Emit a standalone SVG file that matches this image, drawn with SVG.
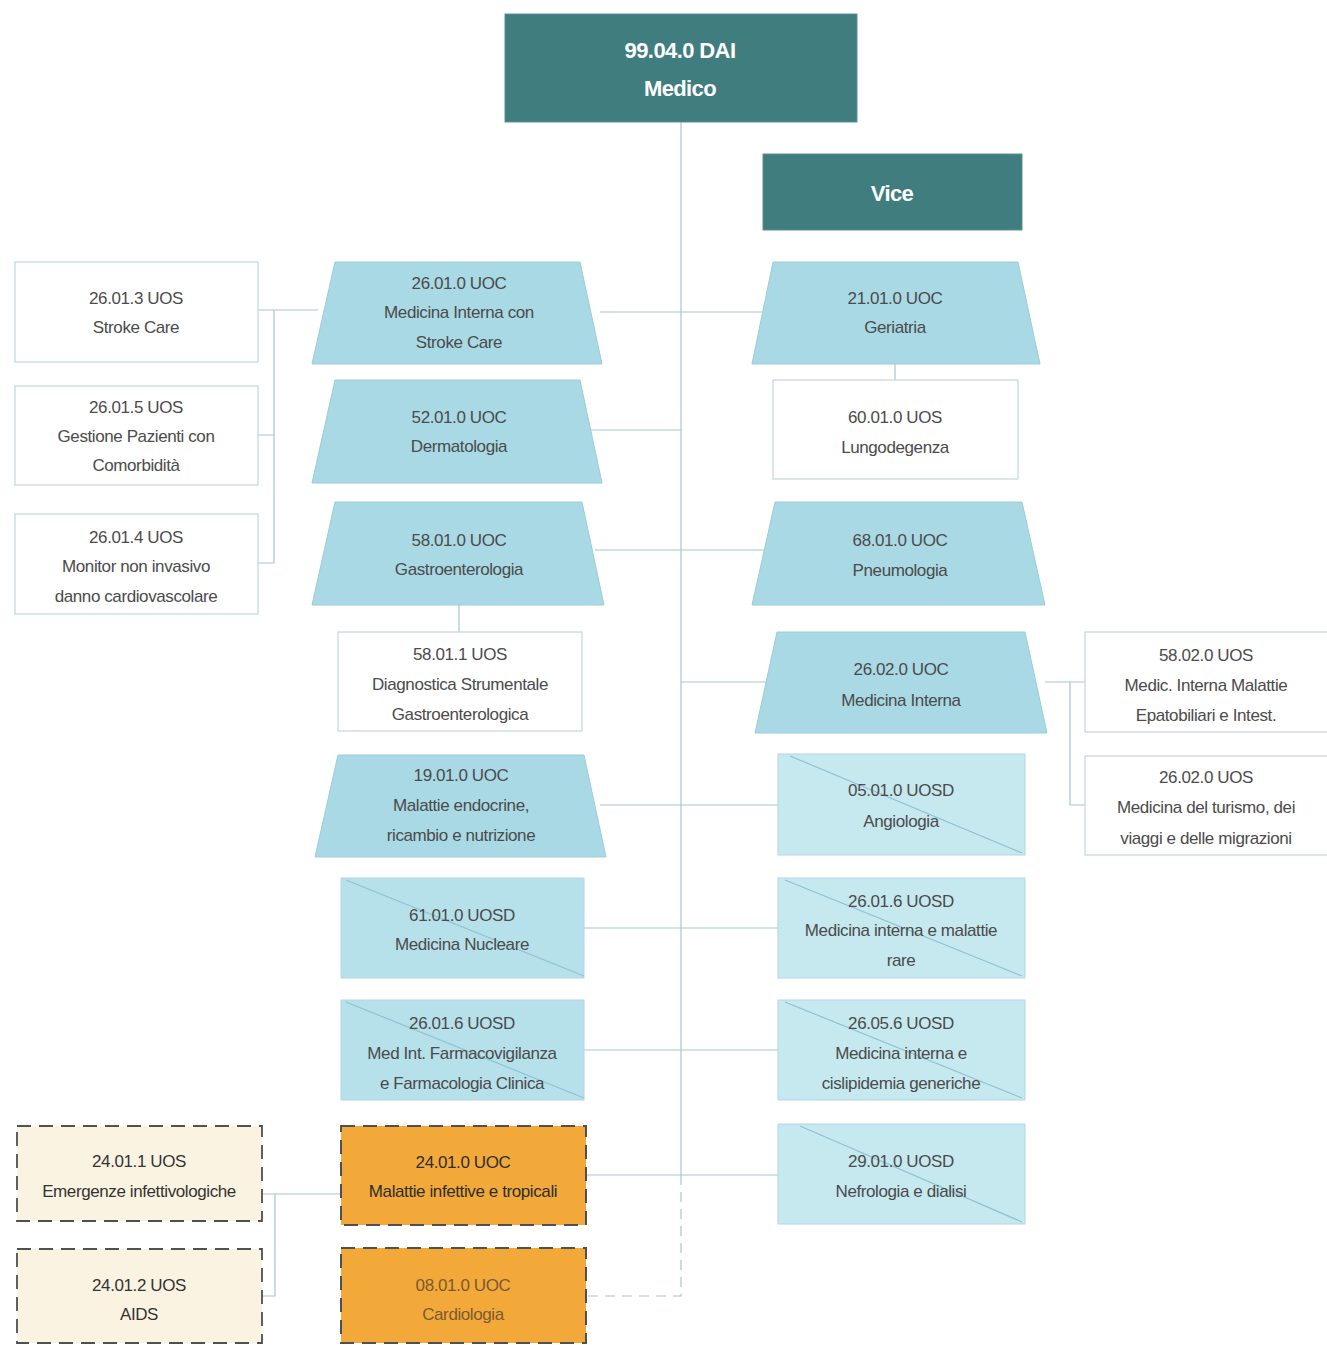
<svg xmlns="http://www.w3.org/2000/svg" width="1327" height="1345" viewBox="0 0 1327 1345">
  <style>
    .lbl { font-family: "Liberation Sans", Arial, sans-serif; font-size: 17px; fill: #4b4b4b; text-anchor: middle; letter-spacing: -0.4px; }
    .head { font-family: "Liberation Sans", Arial, sans-serif; font-size: 22px; font-weight: bold; fill: #ffffff; text-anchor: middle; letter-spacing: -0.6px; }
    .dai { fill: #3f7d7f; stroke: #5e9092; stroke-width: 1; }
    .uoc { fill: #a9d9e4; stroke: #9cccd8; stroke-width: 1; }
    .uos { fill: #ffffff; stroke: #c3d6db; stroke-width: 1.2; }
    .uosd { fill: #c6e8ef; stroke: #b2d8e1; stroke-width: 1; }
    .diag { stroke: #8ec3d2; stroke-width: 1.2; fill: none; }
    .inf { fill: #f2a93a; stroke: #505050; stroke-width: 2; stroke-dasharray: 14 8; }
    .infs { fill: #fbf3e2; stroke: #505050; stroke-width: 1.8; stroke-dasharray: 14 8; }
    .link { stroke: #a9c6cd; stroke-width: 1.2; fill: none; }
    .dash { stroke: #a9c6cd; stroke-width: 1.2; fill: none; stroke-dasharray: 10 7; }
  </style>

  <rect width="1327" height="1345" fill="#ffffff"/>

  <!-- connectors -->
  <g id="connectors">
    <!-- main spine -->
    <path class="link" d="M681 122 V1175"/>
    <path class="dash" d="M681 1175 V1296 H586"/>
    <!-- left branches -->
    <path class="link" d="M600 312 H681 M590 430 H681 M595 550 H681 M600 805 H681 M584 928 H681 M584 1050 H681 M586 1175 H681"/>
    <!-- right branches -->
    <path class="link" d="M681 312 H764 M681 550 H766 M681 682 H768 M681 805 H778 M681 928 H778 M681 1050 H778 M681 1175 H778"/>
    <!-- Stroke Care sub-units -->
    <path class="link" d="M258 310 H318 M274 310 V563 H258 M258 435 H274"/>
    <!-- Gastroenterologia -> Diagnostica -->
    <path class="link" d="M459 605 V632"/>
    <!-- Geriatria -> Lungodegenza -->
    <path class="link" d="M895 364 V380"/>
    <!-- Medicina Interna sub-units -->
    <path class="link" d="M1045 682 H1085 M1070 682 V805 H1085"/>
    <!-- Malattie infettive sub-units -->
    <path class="link" d="M262 1194 H341 M275 1194 V1296 H262"/>
  </g>

  <!-- top -->
  <g id="dai-medico">
    <rect class="dai" x="505" y="14" width="352" height="108"/>
    <text class="head" x="680" y="58">99.04.0 DAI</text>
    <text class="head" x="680" y="96">Medico</text>
  </g>
  <g id="vice">
    <rect class="dai" x="763" y="154" width="259" height="76"/>
    <text class="head" x="892" y="201">Vice</text>
  </g>

  <!-- left UOS column -->
  <g id="uos-26-01-3">
    <rect class="uos" x="15" y="262" width="243" height="100"/>
    <text class="lbl" x="136" y="304">26.01.3 UOS</text>
    <text class="lbl" x="136" y="333">Stroke Care</text>
  </g>
  <g id="uos-26-01-5">
    <rect class="uos" x="15" y="386" width="243" height="99"/>
    <text class="lbl" x="136" y="413">26.01.5 UOS</text>
    <text class="lbl" x="136" y="442">Gestione Pazienti con</text>
    <text class="lbl" x="136" y="471">Comorbidità</text>
  </g>
  <g id="uos-26-01-4">
    <rect class="uos" x="15" y="514" width="243" height="100"/>
    <text class="lbl" x="136" y="543">26.01.4 UOS</text>
    <text class="lbl" x="136" y="572">Monitor  non invasivo</text>
    <text class="lbl" x="136" y="602">danno cardiovascolare</text>
  </g>

  <!-- middle-left column -->
  <g id="uoc-26-01-0">
    <polygon class="uoc" points="335,262 580,262 602,364 312,364"/>
    <text class="lbl" x="459" y="289">26.01.0 UOC</text>
    <text class="lbl" x="459" y="318">Medicina Interna con</text>
    <text class="lbl" x="459" y="348">Stroke Care</text>
  </g>
  <g id="uoc-52-01-0">
    <polygon class="uoc" points="335,380 580,380 602,483 312,483"/>
    <text class="lbl" x="459" y="423">52.01.0 UOC</text>
    <text class="lbl" x="459" y="452">Dermatologia</text>
  </g>
  <g id="uoc-58-01-0">
    <polygon class="uoc" points="335,502 582,502 604,605 312,605"/>
    <text class="lbl" x="459" y="546">58.01.0 UOC</text>
    <text class="lbl" x="459" y="575">Gastroenterologia</text>
  </g>
  <g id="uos-58-01-1">
    <rect class="uos" x="338" y="632" width="244" height="99"/>
    <text class="lbl" x="460" y="660">58.01.1 UOS</text>
    <text class="lbl" x="460" y="690">Diagnostica Strumentale</text>
    <text class="lbl" x="460" y="720">Gastroenterologica</text>
  </g>
  <g id="uoc-19-01-0">
    <polygon class="uoc" points="338,755 584,755 606,857 315,857"/>
    <text class="lbl" x="461" y="781">19.01.0 UOC</text>
    <text class="lbl" x="461" y="811">Malattie endocrine,</text>
    <text class="lbl" x="461" y="841">ricambio e nutrizione</text>
  </g>
  <g id="uosd-61-01-0">
    <rect class="uosd" x="341" y="878" width="243" height="100" fill="#b3e0ea" style="fill:#b6e0ea"/>
    <line class="diag" x1="346" y1="880" x2="584" y2="976"/>
    <text class="lbl" x="462" y="921">61.01.0 UOSD</text>
    <text class="lbl" x="462" y="950">Medicina Nucleare</text>
  </g>
  <g id="uosd-26-01-6-left">
    <rect class="uosd" x="341" y="1000" width="243" height="100" style="fill:#b6e0ea"/>
    <line class="diag" x1="346" y1="1002" x2="584" y2="1098"/>
    <text class="lbl" x="462" y="1029">26.01.6 UOSD</text>
    <text class="lbl" x="462" y="1059">Med Int. Farmacovigilanza</text>
    <text class="lbl" x="462" y="1089">e Farmacologia Clinica</text>
  </g>
  <g id="uoc-24-01-0">
    <rect class="inf" x="341" y="1126" width="245" height="99"/>
    <text class="lbl" x="463" y="1168" style="fill:#2e2e2e">24.01.0 UOC</text>
    <text class="lbl" x="463" y="1197" style="fill:#2e2e2e">Malattie infettive e tropicali</text>
  </g>
  <g id="uoc-08-01-0">
    <rect class="inf" x="341" y="1248" width="245" height="95"/>
    <text class="lbl" x="463" y="1291" style="fill:#7a5a30">08.01.0 UOC</text>
    <text class="lbl" x="463" y="1320" style="fill:#7a5a30">Cardiologia</text>
  </g>

  <!-- bottom-left UOS -->
  <g id="uos-24-01-1">
    <rect class="infs" x="17" y="1126" width="245" height="95"/>
    <text class="lbl" x="139" y="1167" style="fill:#333333">24.01.1 UOS</text>
    <text class="lbl" x="139" y="1197" style="fill:#333333">Emergenze infettivologiche</text>
  </g>
  <g id="uos-24-01-2">
    <rect class="infs" x="17" y="1249" width="245" height="94"/>
    <text class="lbl" x="139" y="1291" style="fill:#333333">24.01.2 UOS</text>
    <text class="lbl" x="139" y="1320" style="fill:#333333">AIDS</text>
  </g>

  <!-- right column -->
  <g id="uoc-21-01-0">
    <polygon class="uoc" points="773,262 1018,262 1040,364 752,364"/>
    <text class="lbl" x="895" y="304">21.01.0 UOC</text>
    <text class="lbl" x="895" y="333">Geriatria</text>
  </g>
  <g id="uos-60-01-0">
    <rect class="uos" x="773" y="380" width="245" height="99"/>
    <text class="lbl" x="895" y="423">60.01.0 UOS</text>
    <text class="lbl" x="895" y="453">Lungodegenza</text>
  </g>
  <g id="uoc-68-01-0">
    <polygon class="uoc" points="775,502 1022,502 1045,605 752,605"/>
    <text class="lbl" x="900" y="546">68.01.0 UOC</text>
    <text class="lbl" x="900" y="576">Pneumologia</text>
  </g>
  <g id="uoc-26-02-0">
    <polygon class="uoc" points="777,632 1025,632 1047,733 755,733"/>
    <text class="lbl" x="901" y="675">26.02.0 UOC</text>
    <text class="lbl" x="901" y="706">Medicina Interna</text>
  </g>
  <g id="uosd-05-01-0">
    <rect class="uosd" x="778" y="754" width="247" height="101"/>
    <line class="diag" x1="790" y1="756" x2="1022" y2="853"/>
    <text class="lbl" x="901" y="796">05.01.0 UOSD</text>
    <text class="lbl" x="901" y="827">Angiologia</text>
  </g>
  <g id="uosd-26-01-6-right">
    <rect class="uosd" x="778" y="878" width="247" height="100"/>
    <line class="diag" x1="785" y1="880" x2="1022" y2="976"/>
    <text class="lbl" x="901" y="907">26.01.6 UOSD</text>
    <text class="lbl" x="901" y="936">Medicina interna e malattie</text>
    <text class="lbl" x="901" y="966">rare</text>
  </g>
  <g id="uosd-26-05-6">
    <rect class="uosd" x="778" y="1000" width="247" height="100"/>
    <line class="diag" x1="785" y1="1002" x2="1022" y2="1098"/>
    <text class="lbl" x="901" y="1029">26.05.6 UOSD</text>
    <text class="lbl" x="901" y="1059">Medicina interna e</text>
    <text class="lbl" x="901" y="1089">cislipidemia generiche</text>
  </g>
  <g id="uosd-29-01-0">
    <rect class="uosd" x="778" y="1124" width="247" height="100"/>
    <line class="diag" x1="800" y1="1126" x2="1022" y2="1222"/>
    <text class="lbl" x="901" y="1167">29.01.0 UOSD</text>
    <text class="lbl" x="901" y="1197">Nefrologia e dialisi</text>
  </g>

  <!-- far right UOS -->
  <g id="uos-58-02-0">
    <rect class="uos" x="1085" y="632" width="250" height="100"/>
    <text class="lbl" x="1206" y="661">58.02.0 UOS</text>
    <text class="lbl" x="1206" y="691">Medic. Interna Malattie</text>
    <text class="lbl" x="1206" y="721">Epatobiliari e Intest.</text>
  </g>
  <g id="uos-26-02-0">
    <rect class="uos" x="1085" y="756" width="250" height="99"/>
    <text class="lbl" x="1206" y="783">26.02.0 UOS</text>
    <text class="lbl" x="1206" y="813">Medicina del turismo, dei</text>
    <text class="lbl" x="1206" y="844">viaggi e delle migrazioni</text>
  </g>
</svg>
